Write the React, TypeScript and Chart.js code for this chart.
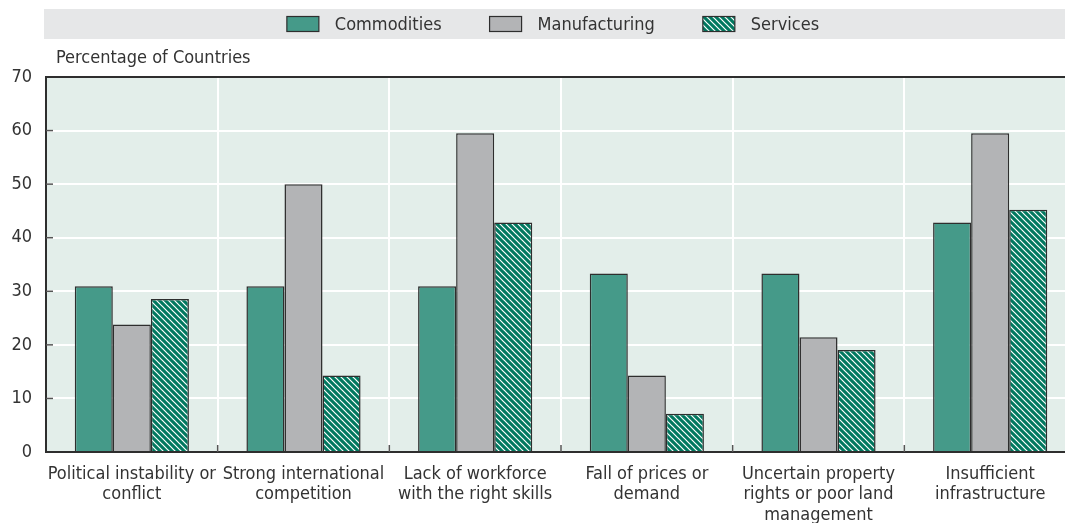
import React, { useEffect, useRef } from "react";
import { Chart, registerables } from "chart.js";

Chart.register(...registerables);

const categories: string[][] = [
  ["Political instability or", "conflict"],
  ["Strong international", "competition"],
  ["Lack of workforce", "with the right skills"],
  ["Fall of prices or", "demand"],
  ["Uncertain property", "rights or poor land", "management"],
  ["Insufficient", "infrastructure"],
];
const seriesNames = ["Commodities", "Manufacturing", "Services"];
const commodities = [30.95, 30.95, 30.95, 33.33, 33.33, 42.86];
const manufacturing = [23.81, 50.0, 59.52, 14.29, 21.43, 59.52];
const services = [28.57, 14.29, 42.86, 7.14, 19.05, 45.24];
const yMin = 0;
const yMax = 70;
const yStep = 10;
const yAxisTitle = "Percentage of Countries";

const FONT = '"DejaVu Sans Condensed", "Liberation Sans Narrow", "Liberation Sans", sans-serif';
const FONT_SIZE = 18;
const TEXT = "#333333";
const C_COMM = "#459a89";
const C_MANU = "#b3b4b6";
const C_SERV = "#00785f";
const PLOT_BG = "#e3eeea";
const BAND = "#e6e7e8";
const EDGE = "#2e2e2e";
const CANVAS_W = 1076;
const CANVAS_H = 523;

function makeHatch(): CanvasPattern | string {
  const c = document.createElement("canvas");
  c.width = 6;
  c.height = 6;
  const g = c.getContext("2d");
  if (!g) return C_SERV;
  g.fillStyle = C_SERV;
  g.fillRect(0, 0, 6, 6);
  g.strokeStyle = "#ffffff";
  g.lineWidth = 1.2;
  g.beginPath();
  g.moveTo(-3, -3);
  g.lineTo(9, 9);
  g.moveTo(-3, 3);
  g.lineTo(3, 9);
  g.moveTo(3, -3);
  g.lineTo(9, 3);
  g.stroke();
  return g.createPattern(c, "repeat") || C_SERV;
}

export default function App() {
  const ref = useRef<HTMLCanvasElement | null>(null);

  useEffect(() => {
    const canvas = ref.current;
    if (!canvas) return;
    const hatch = makeHatch();
    const fills: (string | CanvasPattern)[] = [C_COMM, C_MANU, hatch];

    const decor = {
      id: "decor",
      beforeDraw(chart: any) {
        const { ctx, chartArea: a } = chart;
        ctx.save();
        ctx.fillStyle = PLOT_BG;
        ctx.fillRect(a.left, a.top, a.right - a.left, a.bottom - a.top);
        ctx.restore();
      },
      afterDatasetsDraw(chart: any) {
        const { ctx, chartArea: a } = chart;
        const x = chart.scales.x;
        const y = chart.scales.y;
        ctx.save();
        ctx.strokeStyle = "#555";
        ctx.lineWidth = 1.5;
        for (let i = 1; i < categories.length; i++) {
          const px = (x.getPixelForValue(i - 1) + x.getPixelForValue(i)) / 2;
          ctx.beginPath();
          ctx.moveTo(px, a.bottom);
          ctx.lineTo(px, a.bottom - 7);
          ctx.stroke();
        }
        for (let v = yMin + yStep; v < yMax; v += yStep) {
          const py = y.getPixelForValue(v);
          ctx.beginPath();
          ctx.moveTo(a.left, py);
          ctx.lineTo(a.left + 7, py);
          ctx.stroke();
        }
        ctx.restore();
      },
      afterDraw(chart: any) {
        const { ctx } = chart;
        ctx.save();
        ctx.fillStyle = BAND;
        ctx.fillRect(44, 9, chart.width - 44, 30);
        ctx.font = `${FONT_SIZE}px ${FONT}`;
        ctx.textBaseline = "middle";
        ctx.textAlign = "left";
        const boxW = 32;
        const boxH = 15;
        const gapText = 16;
        const gapItem = 48;
        const widths = seriesNames.map((s) => ctx.measureText(s).width);
        const total =
          widths.reduce((s, w) => s + w, 0) + seriesNames.length * (boxW + gapText) + (seriesNames.length - 1) * gapItem;
        let lx = 553 - total / 2;
        const cy = 24;
        seriesNames.forEach((name, i) => {
          ctx.fillStyle = fills[i];
          ctx.fillRect(lx, cy - boxH / 2, boxW, boxH);
          ctx.strokeStyle = EDGE;
          ctx.lineWidth = 1.2;
          ctx.strokeRect(lx, cy - boxH / 2, boxW, boxH);
          ctx.fillStyle = TEXT;
          ctx.fillText(name, lx + boxW + gapText, cy + 1);
          lx += boxW + gapText + widths[i] + gapItem;
        });
        ctx.fillText(yAxisTitle, 56, 58);
        ctx.restore();
      },
    };

    const chart = new Chart(canvas, {
      type: "bar",
      data: {
        labels: categories,
        datasets: [commodities, manufacturing, services].map((d, i) => ({
          label: seriesNames[i],
          data: d,
          backgroundColor: fills[i] as any,
          borderColor: EDGE,
          borderWidth: 1.5,
          categoryPercentage: 0.665,
          barPercentage: 1.0,
        })),
      },
      options: {
        animation: false,
        responsive: false,
        devicePixelRatio: 1,
        layout: { padding: { top: 77, left: 0, right: 0, bottom: 0 } },
        plugins: {
          legend: { display: false },
          title: { display: false },
          tooltip: { enabled: false },
        },
        scales: {
          x: {
            afterFit(scale: any) {
              scale.height = 71;
            },
            grid: { color: "#ffffff", lineWidth: 2, drawTicks: false, offset: true },
            border: { display: true, color: EDGE, width: 2 },
            ticks: {
              autoSkip: false,
              maxRotation: 0,
              minRotation: 0,
              padding: 12,
              color: TEXT,
              font: { family: FONT, size: FONT_SIZE, lineHeight: 1.14 },
            },
          },
          y: {
            min: yMin,
            max: yMax,
            afterFit(scale: any) {
              scale.width = 46;
            },
            grid: {
              color: (c: any) => (c.tick && c.tick.value === yMax ? EDGE : "#ffffff"),
              lineWidth: 2,
              drawTicks: false,
            },
            border: { display: true, color: EDGE, width: 2 },
            ticks: {
              stepSize: yStep,
              padding: 14,
              color: TEXT,
              font: { family: FONT, size: FONT_SIZE },
            },
          },
        },
      },
      plugins: [decor],
    });
    return () => chart.destroy();
  }, []);

  return (
    <div style={{ position: "absolute", left: 0, top: 0, width: 1065, height: 523, overflow: "hidden" }}>
      <canvas ref={ref} width={CANVAS_W} height={CANVAS_H} style={{ display: "block" }} />
    </div>
  );
}
